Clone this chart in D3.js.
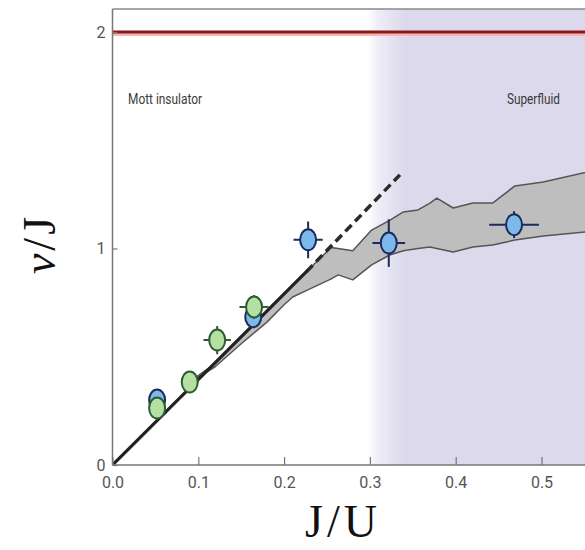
<!DOCTYPE html>
<html>
<head>
<meta charset="utf-8">
<script src="https://cdn.jsdelivr.net/npm/d3@7"></script>
<style>
  body { margin: 0; background: #fff; }
  svg { display: block; }
</style>
</head>
<body>
<div id="chart"></div>
<script>
// Data
const xTicks = [0, 0.1, 0.2, 0.3, 0.4, 0.5];
const yTicks = [0, 1, 2];

// gray band (upper and lower edges at common J/U points)
const bandX  = [0.09, 0.12, 0.15, 0.18, 0.20, 0.21, 0.227, 0.255, 0.263, 0.28, 0.302, 0.323, 0.339, 0.356, 0.37, 0.378, 0.397, 0.42, 0.443, 0.469, 0.502, 0.56];
const bandHi = [0.385, 0.47, 0.59, 0.71, 0.79, 0.83, 0.897, 1.005, 1.0, 0.99, 1.085, 1.13, 1.169, 1.178, 1.21, 1.233, 1.187, 1.21, 1.21, 1.289, 1.307, 1.36];
const bandLo = [0.38, 0.455, 0.56, 0.66, 0.74, 0.776, 0.808, 0.86, 0.878, 0.855, 0.924, 0.97, 0.99, 1.0, 1.007, 1.0, 0.984, 1.007, 1.016, 1.039, 1.058, 1.08];

// linear guide: solid part then dashed part
const solidX = [0, 0.226];
const solidY = [0, 0.893];
const dashX = [0.226, 0.335];
const dashY = [0.893, 1.34];

// upper limit line
const limitY = 2;

// blue points
const blueX    = [0.052, 0.164, 0.228, 0.322, 0.468];
const blueY    = [0.30, 0.685, 1.04, 1.025, 1.11];
const blueXErr = [0, 0, 0.017, 0.019, 0.029];
const blueYErr = [0, 0, 0.085, 0.11, 0.062];

// green points
const greenX    = [0.052, 0.09, 0.122, 0.165];
const greenY    = [0.263, 0.383, 0.577, 0.73];
const greenXErr = [0, 0.01, 0.016, 0.017];
const greenYErr = [0, 0.03, 0.065, 0.055];

const W = 585, H = 550;
const svg = d3.select('#chart').append('svg')
    .attr('width', W)
    .attr('height', H);

const x = d3.scaleLinear().domain([0, 0.5]).range([112.5, 541.5]);
const y = d3.scaleLinear().domain([0, 2]).range([465, 32]);
const plotTop = 9;

const defs = svg.append('defs');
defs.append('clipPath').attr('id', 'plot-clip')
  .append('rect')
    .attr('x', x(0)).attr('y', plotTop)
    .attr('width', W - x(0)).attr('height', y(0) - plotTop);

const grad = defs.append('linearGradient')
    .attr('id', 'sf-grad')
    .attr('gradientUnits', 'userSpaceOnUse')
    .attr('x1', x(0.297)).attr('x2', x(0.34))
    .attr('y1', 0).attr('y2', 0);
grad.append('stop').attr('offset', 0).attr('stop-color', '#ffffff');
grad.append('stop').attr('offset', 0.3).attr('stop-color', '#eeedf6');
grad.append('stop').attr('offset', 1).attr('stop-color', '#dcd9ec');

const g = svg.append('g').attr('clip-path', 'url(#plot-clip)');

// superfluid shading
g.append('rect')
    .attr('x', x(0.28)).attr('y', plotTop)
    .attr('width', W - x(0.28)).attr('height', y(0) - plotTop)
    .attr('fill', 'url(#sf-grad)');

// limit line at v/J = 2
g.append('line')
    .attr('x1', x(0)).attr('x2', W)
    .attr('y1', y(limitY) + 2).attr('y2', y(limitY) + 2)
    .attr('stroke', '#f2b8b8').attr('stroke-width', 4);
g.append('line')
    .attr('x1', x(0)).attr('x2', W)
    .attr('y1', y(limitY)).attr('y2', y(limitY))
    .attr('stroke', '#8e1616').attr('stroke-width', 3);

// gray band
const band = d3.area()
    .x((d, i) => x(bandX[i]))
    .y0((d, i) => y(bandLo[i]))
    .y1((d, i) => y(bandHi[i]));
g.append('path')
    .attr('d', band(bandX))
    .attr('fill', '#bebebe')
    .attr('stroke', '#555')
    .attr('stroke-width', 1.5)
    .attr('stroke-linejoin', 'round');

// solid + dashed guide
const line = d3.line().x(d => x(d[0])).y(d => y(d[1]));
g.append('path')
    .attr('d', line(dashX.map((v, i) => [v, dashY[i]])))
    .attr('fill', 'none')
    .attr('stroke', '#2b2b2b')
    .attr('stroke-width', 3.5)
    .attr('stroke-dasharray', '9,5');
g.append('path')
    .attr('d', line(solidX.map((v, i) => [v, solidY[i]])))
    .attr('fill', 'none')
    .attr('stroke', '#222')
    .attr('stroke-width', 3.2)
    .attr('stroke-linecap', 'round');

// points with error bars
function drawPoints(xs, ys, xe, ye, fill, stroke) {
    const pts = xs.map((v, i) => ({ x: v, y: ys[i], xe: xe[i], ye: ye[i] }));
    const grp = g.append('g');
    grp.selectAll('.xerr').data(pts.filter(d => d.xe > 0)).enter()
      .append('line')
        .attr('x1', d => x(d.x - d.xe)).attr('x2', d => x(d.x + d.xe))
        .attr('y1', d => y(d.y)).attr('y2', d => y(d.y))
        .attr('stroke', stroke).attr('stroke-width', 2);
    grp.selectAll('.yerr').data(pts.filter(d => d.ye > 0)).enter()
      .append('line')
        .attr('x1', d => x(d.x)).attr('x2', d => x(d.x))
        .attr('y1', d => y(d.y - d.ye)).attr('y2', d => y(d.y + d.ye))
        .attr('stroke', stroke).attr('stroke-width', 2);
    grp.selectAll('ellipse').data(pts).enter()
      .append('ellipse')
        .attr('cx', d => x(d.x)).attr('cy', d => y(d.y))
        .attr('rx', 8).attr('ry', 10.5)
        .attr('fill', fill)
        .attr('stroke', stroke)
        .attr('stroke-width', 2);
}
drawPoints(blueX, blueY, blueXErr, blueYErr, '#7cb9ea', '#1c2b5e');
drawPoints(greenX, greenY, greenXErr, greenYErr, '#b4e0a2', '#2d5c34');

// region labels
const labelFont = 'Roboto, "DejaVu Sans Condensed", sans-serif';
svg.append('text')
    .attr('x', 128).attr('y', 104)
    .attr('textLength', 74).attr('lengthAdjust', 'spacingAndGlyphs')
    .style('font-family', labelFont).style('font-size', '15px')
    .style('fill', '#3a3a3a')
    .text('Mott insulator');
svg.append('text')
    .attr('x', 507).attr('y', 104)
    .attr('textLength', 53).attr('lengthAdjust', 'spacingAndGlyphs')
    .style('font-family', labelFont).style('font-size', '15px')
    .style('fill', '#3a3a3a')
    .text('Superfluid');

// frame: top line, left axis, bottom axis
svg.append('line')
    .attr('x1', x(0)).attr('x2', W)
    .attr('y1', plotTop).attr('y2', plotTop)
    .attr('stroke', '#8a8a8a').attr('stroke-width', 1.5);

const xAxis = d3.axisBottom(x)
    .tickValues(xTicks)
    .tickSize(-8)
    .tickPadding(12)
    .tickFormat(d3.format('.1f'));
const xg = svg.append('g')
    .attr('transform', `translate(0,${y(0)})`)
    .call(xAxis);
xg.select('.domain').attr('d', `M${x(0)},0H${W}`);

const yAxis = d3.axisLeft(y)
    .tickValues(yTicks)
    .tickSize(-5)
    .tickPadding(7)
    .tickFormat(d3.format('d'));
const yg = svg.append('g')
    .attr('transform', `translate(${x(0)},0)`)
    .call(yAxis);
yg.select('.domain').attr('d', `M0,${plotTop}V${y(0)}`);

[xg, yg].forEach(a => {
    a.select('.domain').attr('stroke', '#777').attr('stroke-width', 1.5);
    a.selectAll('.tick line').attr('stroke', '#777').attr('stroke-width', 1.2);
    a.selectAll('.tick text')
        .style('font-family', labelFont)
        .style('font-size', '16px')
        .style('fill', '#555');
});

// axis titles
svg.append('text')
    .attr('transform', 'translate(55,244) rotate(-90)')
    .attr('text-anchor', 'middle')
    .style('font-family', '"Liberation Serif", "DejaVu Serif", serif')
    .style('font-size', '46px')
    .style('letter-spacing', '3px')
    .style('fill', '#111')
    .html('<tspan font-style="italic">v</tspan>/J');
svg.append('text')
    .attr('x', 343).attr('y', 537)
    .attr('text-anchor', 'middle')
    .style('font-family', '"Liberation Serif", "DejaVu Serif", serif')
    .style('font-size', '46px')
    .style('letter-spacing', '4px')
    .style('fill', '#111')
    .text('J/U');
</script>
</body>
</html>
